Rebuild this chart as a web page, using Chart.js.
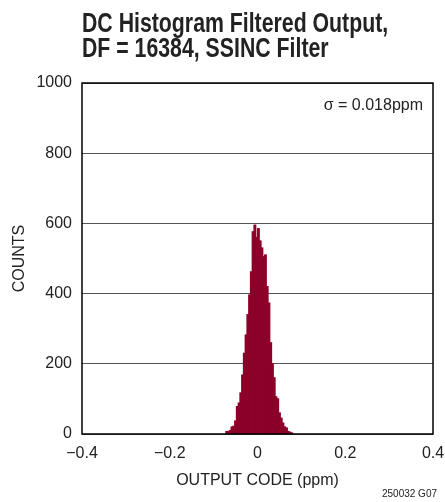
<!DOCTYPE html>
<html lang="en">
  <head>
    <meta charset="UTF-8" />
    <title>DC Histogram Filtered Output</title>
    <style>
      html, body { margin: 0; padding: 0; background: #fff; }
      #wrap { position: relative; width: 445px; height: 502px; }
      #title {
        position: absolute;
        left: 82px;
        top: 10px;
        font-family: "Liberation Sans", Arial, sans-serif;
        font-weight: bold;
        font-size: 28px;
        line-height: 25px;
        color: #222;
        white-space: nowrap;
        transform: scaleX(0.76);
        transform-origin: left top;
      }
    </style>
  </head>
  <body>
    <div id="wrap">
      <div id="title">DC Histogram Filtered Output,<br />DF = 16384, SSINC Filter</div>
      <canvas id="histChart" width="445" height="502"></canvas>
    </div>
    <script src="https://cdn.jsdelivr.net/npm/chart.js"></script>
    <script>
      // output code bins (ppm) and counts
      const binCenters = [
        -0.070, -0.066, -0.062, -0.058, -0.054, -0.050, -0.046, -0.042,
        -0.038, -0.034, -0.030, -0.026, -0.022, -0.018, -0.014, -0.010,
        -0.006, -0.002, 0.002, 0.006, 0.010, 0.014, 0.018, 0.022,
        0.026, 0.030, 0.034, 0.038, 0.042, 0.046, 0.050, 0.054,
        0.058, 0.062, 0.066, 0.070, 0.074, 0.078
      ]
      const counts = [
        7, 7, 10, 20, 22, 37, 78, 88,
        117, 168, 230, 282, 340, 396, 462, 576,
        595, 560, 585, 550, 530, 505, 510, 420,
        373, 260, 200, 160, 106, 100, 60, 45,
        31, 20, 17, 7, 5, 3
      ]
      const xTicks = [-0.4, -0.2, 0, 0.2, 0.4]
      const yTicks = [0, 200, 400, 600, 800, 1000]

      const fontFam = "'Liberation Sans', Arial, sans-serif"
      const barColor = "#8c0029"

      const fmtX = (v) => {
        if (v === 0) return "0"
        return (v < 0 ? "\u2212" : "") + Math.abs(v).toFixed(1)
      }

      // frame around plot area plus the small notes
      const extras = {
        id: "extras",
        afterDraw(chart) {
          const { ctx, chartArea: a } = chart
          ctx.save()
          ctx.strokeStyle = "#000"
          ctx.lineWidth = 1.5
          ctx.strokeRect(a.left, a.top, a.right - a.left, a.bottom - a.top)
          ctx.fillStyle = "#222"
          ctx.font = "16px " + fontFam
          ctx.textAlign = "right"
          ctx.textBaseline = "alphabetic"
          ctx.fillText("\u03c3 = 0.018ppm", a.right - 10, 110)
          ctx.font = "10px " + fontFam
          ctx.fillText("250032 G07", 437, 497)
          ctx.restore()
        },
      }

      new Chart(document.getElementById("histChart"), {
        type: "bar",
        data: {
          datasets: [
            {
              data: binCenters.map((x, i) => ({ x: x, y: counts[i] })),
              backgroundColor: barColor,
              borderWidth: 0,
              inflateAmount: 0.6,
              barPercentage: 1,
              categoryPercentage: 1,
            },
          ],
        },
        options: {
          responsive: false,
          animation: false,
          layout: { padding: { left: 8, right: 12, top: 83, bottom: 8 } },
          plugins: {
            legend: { display: false },
            tooltip: { enabled: false },
          },
          scales: {
            x: {
              type: "linear",
              offset: false,
              min: -0.4,
              max: 0.4,
              afterBuildTicks: (s) => { s.ticks = xTicks.map((v) => ({ value: v })) },
              afterFit: (s) => {
                s.height = 60
                s.paddingLeft = 0
                s.paddingRight = 0
              },
              grid: { display: false, drawTicks: false },
              border: { display: false },
              ticks: {
                color: "#222",
                font: { family: fontFam, size: 16 },
                padding: 10,
                maxRotation: 0,
                callback: (v) => fmtX(v),
              },
              title: {
                display: true,
                text: "OUTPUT CODE (ppm)",
                color: "#222",
                font: { family: fontFam, size: 16 },
                padding: { top: 6 },
              },
            },
            y: {
              min: 0,
              max: 1000,
              afterBuildTicks: (s) => { s.ticks = yTicks.map((v) => ({ value: v })) },
              afterFit: (s) => { s.width = 74 },
              grid: { color: "#555", lineWidth: 1, drawTicks: false },
              border: { display: false },
              ticks: {
                color: "#222",
                font: { family: fontFam, size: 16 },
                padding: 10,
                callback: (v) => String(v),
              },
              title: {
                display: true,
                text: "COUNTS",
                color: "#222",
                font: { family: fontFam, size: 16 },
                padding: { top: 2, bottom: 0 },
              },
            },
          },
        },
        plugins: [extras],
      })
    </script>
  </body>
</html>
